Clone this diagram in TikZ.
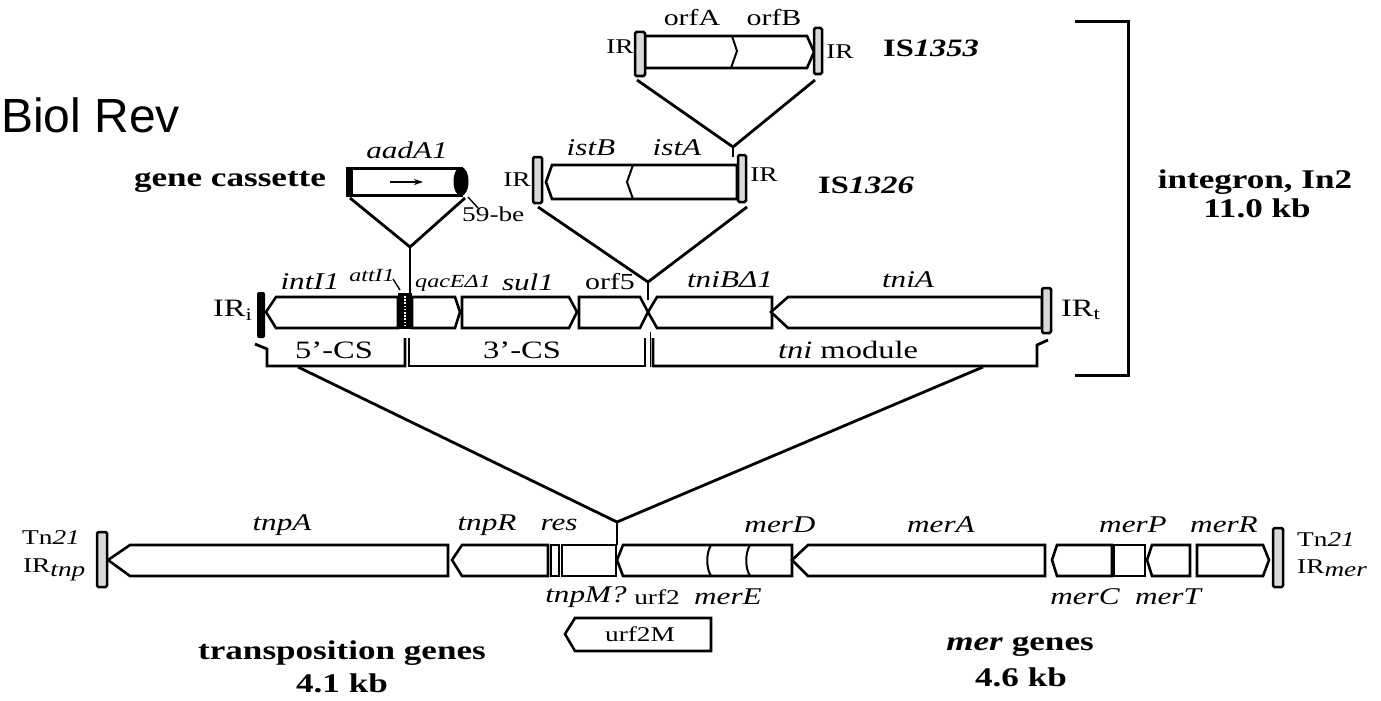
\documentclass[tikz,border=0pt]{standalone}
\usepackage{fontspec}
\setmainfont{Liberation Serif}[FakeStretch=1.3]
\newfontfamily\arialf{Liberation Sans}
\usetikzlibrary{arrows.meta}
\begin{document}
\begin{tikzpicture}[x=1pt,y=-1pt,
  gene/.style={draw, line width=2.6pt, fill=white, line join=miter},
  conn/.style={line width=2.8pt},
  irbar/.style={draw, line width=2.5pt, fill=black!15, rounded corners=1.5pt},
  blackbar/.style={fill=black, rounded corners=2pt},
  txt/.style={inner sep=0pt, font=\fontsize{21}{23}\selectfont},
  orft/.style={inner sep=0pt, font=\fontsize{23}{25}\selectfont},
  itx/.style={inner sep=0pt, font=\fontsize{24}{26}\selectfont\itshape},
  smit/.style={inner sep=0pt, font=\fontsize{18.5}{20}\selectfont\itshape},
  bigtx/.style={inner sep=0pt, font=\fontsize{25}{27}\selectfont},
  bld/.style={inner sep=0pt, font=\fontsize{27}{30}\selectfont\bfseries, align=center},
  bldis/.style={inner sep=0pt, font=\fontsize{25}{27}\selectfont\bfseries}]
\useasboundingbox (0,0) rectangle (1381,701);
\fill[white] (0,0) rectangle (1381,701);

% ---------- Biol Rev ----------
\node[inner sep=0pt, anchor=base west, font=\fontsize{48}{50}\arialf] (biol) at (1,132) {Biol Rev};

% ---------- IS1353 ----------
\draw[gene] (645,36) -- (807,36) -- (814,52) -- (807,68) -- (645,68) -- cycle;
\draw[line width=2pt] (732,36) -- (737,51) -- (731,68);
\draw[irbar] (635,32) rectangle (645,76);
\draw[irbar] (814,28) rectangle (822,74);
\node[txt] (ir1) at (620,47) {IR};
\node[txt] (ir2) at (840,52) {IR};
\node[orft] (orfA) at (692,18) {orfA};
\node[orft] (orfB) at (774,18) {orfB};
\node[bldis, anchor=west] (is1353) at (883,48) {IS\textit{1353}};
\coordinate (s1l) at (637,80);
\coordinate (s1r) at (815,80);
\coordinate (s1m) at (733,147);
\coordinate (s1b) at (733,157);
\draw[conn] (s1l) -- (s1m) -- (s1r);
\draw[conn] (s1m) -- (s1b);

% ---------- IS1326 ----------
\draw[gene] (546,182) -- (552,165) -- (737,165) -- (737,199) -- (552,199) -- cycle;
\draw[line width=2pt] (633,165) -- (627,182) -- (633,199);
\draw[irbar] (533,157) rectangle (542,203);
\draw[irbar] (738,155) rectangle (746,202);
\node[txt] (ir3) at (517,180) {IR};
\node[txt] (ir4) at (764,175) {IR};
\node[itx] (istB) at (591,148) {istB};
\node[itx] (istA) at (677,148) {istA};
\node[bldis, anchor=west] (is1326) at (818,185) {IS\textit{1326}};
\coordinate (s2l) at (538,207);
\coordinate (s2r) at (747,207);
\coordinate (s2m) at (648,282);
\coordinate (s2b) at (648,300);
\draw[conn] (s2l) -- (s2m) -- (s2r);
\draw[conn] (s2m) -- (s2b);

% ---------- gene cassette ----------
\draw[line width=3pt, fill=white] (349,168) rectangle (461,195);
\fill (346,166.5) rectangle (353,196.5);
\fill (461,181.5) ellipse [x radius=7.5, y radius=14.5];
\draw[line width=1.2pt, -{Stealth[length=9pt, width=6pt]}] (390,182) -- (423,182);
\node[itx] (aadA1) at (407,150) {aadA1};
\node[bld] (gc) at (230,182) {gene cassette};
\node[txt, anchor=west] (be) at (462,214) {59-be};
\coordinate (bel) at (468,197);
\coordinate (bee) at (478,208);
\draw[line width=1.4pt] (bel) -- (bee);
\coordinate (gcl) at (350,198);
\coordinate (gcr) at (465,198);
\coordinate (gcm) at (410,247);
\coordinate (gcb) at (410,293);
\draw[conn] (gcl) -- (gcm) -- (gcr);
\draw[conn] (gcm) -- (gcb);

% ---------- integron row ----------
\draw[gene] (266,312) -- (276,297) -- (398,297) -- (398,328) -- (276,328) -- cycle;
\draw[gene] (412,297) -- (455,297) -- (460,312) -- (455,328) -- (412,328) -- cycle;
\draw[gene] (462,297) -- (569,297) -- (577,312) -- (569,328) -- (462,328) -- cycle;
\draw[gene] (579,297) -- (640,297) -- (648,312) -- (640,328) -- (579,328) -- cycle;
\draw[gene] (648,312) -- (657,297) -- (772,297) -- (772,328) -- (657,328) -- cycle;
\draw[gene] (771,312) -- (788,297) -- (1042,297) -- (1042,328) -- (788,328) -- cycle;
\fill[blackbar] (257,292) rectangle (265,338);
\fill (398,293) rectangle (412,329);
\draw[white, line width=1.3pt, dash pattern=on 1.6pt off 1.6pt] (405,296) -- (405,327);
\draw[irbar] (1042,288) rectangle (1051,333);
\node[bigtx] (iri) at (232,310) {IR$_{\mathrm{i}}$};
\node[bigtx] (irt) at (1080,310) {IR$_{\mathrm{t}}$};
\node[itx] (intI1) at (310,282) {intI1};
\node[smit] (attI1) at (372,275) {attI1};
\coordinate (atl) at (393,279);
\coordinate (ate) at (400,290);
\draw[line width=1.4pt] (atl) -- (ate);
\node[smit] (qacE) at (453,283) {qacEΔ1};
\node[itx] (sul1) at (528,282) {sul1};
\node[orft] (orf5) at (610,282) {orf5};
\node[itx] (tniB) at (730,280) {tniBΔ1};
\node[itx] (tniA) at (908,280) {tniA};

% ---------- CS brackets ----------
\draw[line width=2.8pt] (255,344) -- (267,349) -- (267,366) -- (405,366) -- (405,338);
\draw[line width=2.8pt] (409,338) -- (409,366) -- (645,366) -- (645,338);
\draw[line width=0.8pt] (650,332) -- (650,367);
\draw[line width=2.8pt] (653,338) -- (653,366) -- (1037,366) -- (1037,345) -- (1048,340);
\node[bigtx] (cs5) at (334,350) {5'-CS};
\node[bigtx] (cs3) at (522,350) {3'-CS};
\node[bigtx] (tnimod) at (848,350) {\textit{tni} module};

% ---------- integron bracket ----------
\draw[line width=3pt] (1075,22) -- (1128,22) -- (1128,375) -- (1075,375);
\node[bld] (integron) at (1255,182) {integron, In2};
\node[bld] (kb11) at (1257,208) {11.0 kb};

% ---------- connectors to Tn21 ----------
\coordinate (tl) at (298,367);
\coordinate (tr) at (983,367);
\coordinate (tm) at (617,522);
\coordinate (tb) at (617,545);
\draw[conn] (tl) -- (tm) -- (tr);
\draw[conn] (tm) -- (tb);

% ---------- Tn21 row ----------
\draw[gene] (108,560) -- (130,545) -- (448,545) -- (448,576) -- (130,576) -- cycle;
\draw[gene] (452,560) -- (462,545) -- (548,545) -- (548,576) -- (462,576) -- cycle;
\draw[gene] (551,545) rectangle (559,576);
\draw[gene] (562,545) rectangle (616,576);
\draw[gene] (617,560) -- (623,545) -- (792,545) -- (792,576) -- (623,576) -- cycle;
\draw[line width=2pt] (711,545) .. controls (706,553) and (706,568) .. (711,576);
\draw[line width=2pt] (750,545) .. controls (745,553) and (745,568) .. (750,576);
\draw[gene] (792,560) -- (808,545) -- (1045,545) -- (1045,576) -- (808,576) -- cycle;
\draw[gene] (1052,560) -- (1057,545) -- (1112,545) -- (1112,576) -- (1057,576) -- cycle;
\draw[gene] (1114,545) rectangle (1145,576);
\draw[gene] (1147,560) -- (1152,545) -- (1190,545) -- (1190,576) -- (1152,576) -- cycle;
\draw[gene] (1197,545) -- (1263,545) -- (1269,560) -- (1263,576) -- (1197,576) -- cycle;
\draw[irbar] (97,532) rectangle (107,587);
\draw[irbar] (1273,528) rectangle (1283,587);
\draw[gene] (565,634) -- (575,618) -- (711,618) -- (711,651) -- (575,651) -- cycle;
\node[txt] (urf2M) at (640,634) {urf2M};

\node[itx] (tnpA) at (282,525) {tnpA};
\node[itx] (tnpR) at (487,525) {tnpR};
\node[itx] (res) at (559,525) {res};
\node[itx] (merD) at (780,525) {merD};
\node[itx] (merA) at (941,525) {merA};
\node[itx] (merP) at (1133,525) {merP};
\node[itx] (merR) at (1224,525) {merR};
\node[itx] (tnpM) at (586,597) {tnpM?};
\node[txt] (urf2) at (657,597) {urf2};
\node[itx] (merE) at (728,597) {merE};
\node[itx] (merC) at (1085,597) {merC};
\node[itx] (merT) at (1168,597) {merT};

\node[txt, anchor=east] (tnl) at (80,538) {Tn\textit{21}};
\node[txt, anchor=east] (irtnp) at (86,570) {IR$_{\textit{tnp}}$};
\node[txt, anchor=west] (tnr) at (1297,540) {Tn\textit{21}};
\node[txt, anchor=west] (irmer) at (1297,568) {IR$_{\textit{mer}}$};

\node[bld] (tpg) at (342,653) {transposition genes};
\node[bld] (kb41) at (342,683) {4.1 kb};
\node[bld] (merg) at (1020,647) {\textit{mer} genes};
\node[bld] (kb46) at (1021,677) {4.6 kb};
\end{tikzpicture}
\end{document}
